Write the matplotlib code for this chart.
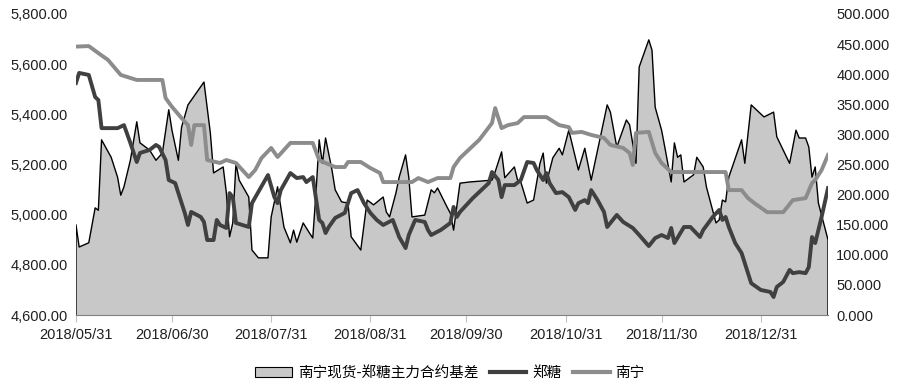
import pandas as pd
import matplotlib
matplotlib.use("Agg")
import matplotlib.pyplot as plt
import matplotlib.dates as mdates
from matplotlib.ticker import FuncFormatter
from matplotlib.patches import Patch
from matplotlib.lines import Line2D

# 南宁现货 (left axis)
nanning_dates = [
    "2018-05-31", "2018-06-04", "2018-06-07", "2018-06-10", "2018-06-14", "2018-06-19",
    "2018-06-27", "2018-06-28", "2018-06-30", "2018-07-03", "2018-07-05", "2018-07-06",
    "2018-07-07", "2018-07-10", "2018-07-11", "2018-07-15", "2018-07-17", "2018-07-20",
    "2018-07-24", "2018-07-26", "2018-07-28", "2018-07-31", "2018-08-02", "2018-08-06",
    "2018-08-13", "2018-08-15", "2018-08-17", "2018-08-20", "2018-08-23", "2018-08-24",
    "2018-08-28", "2018-08-31", "2018-09-03", "2018-09-04", "2018-09-13", "2018-09-15",
    "2018-09-18", "2018-09-21", "2018-09-25", "2018-09-26", "2018-09-28", "2018-10-04",
    "2018-10-08", "2018-10-09", "2018-10-11", "2018-10-13", "2018-10-16", "2018-10-18",
    "2018-10-25", "2018-10-29", "2018-11-01", "2018-11-02", "2018-11-05", "2018-11-08",
    "2018-11-12", "2018-11-14", "2018-11-18", "2018-11-20", "2018-11-21", "2018-11-22",
    "2018-11-26", "2018-11-28", "2018-11-30", "2018-12-03", "2018-12-20", "2018-12-21",
    "2018-12-25", "2018-12-27", "2018-12-29", "2019-01-02", "2019-01-07", "2019-01-10",
    "2019-01-14", "2019-01-16", "2019-01-17", "2019-01-19", "2019-01-21",
]
nanning = [
    5670, 5672, 5644, 5617, 5557, 5537,
    5537, 5465, 5430, 5385, 5357, 5278,
    5357, 5357, 5218, 5206, 5218, 5206,
    5150, 5178, 5226, 5266, 5230, 5286,
    5286, 5218, 5206, 5190, 5190, 5210,
    5210, 5186, 5166, 5130, 5130, 5146,
    5130, 5146, 5146, 5190, 5226, 5298,
    5365, 5425, 5345, 5357, 5365, 5389,
    5389, 5357, 5349, 5326, 5330, 5318,
    5306, 5278, 5266, 5246, 5198, 5326,
    5330, 5246, 5206, 5170, 5170, 5098,
    5098, 5066, 5046, 5010, 5010, 5058,
    5066, 5126, 5138, 5178, 5238,
]

# 郑糖主力 (left axis)
zhengtang_dates = [
    "2018-05-31", "2018-06-01", "2018-06-04", "2018-06-06", "2018-06-07", "2018-06-08",
    "2018-06-13", "2018-06-15", "2018-06-17", "2018-06-19", "2018-06-20", "2018-06-23",
    "2018-06-25", "2018-06-26", "2018-06-28", "2018-06-29", "2018-07-01", "2018-07-04",
    "2018-07-05", "2018-07-06", "2018-07-09", "2018-07-10", "2018-07-11", "2018-07-13",
    "2018-07-14", "2018-07-15", "2018-07-17", "2018-07-18", "2018-07-19", "2018-07-20",
    "2018-07-24", "2018-07-25", "2018-07-30", "2018-08-01", "2018-08-02", "2018-08-03",
    "2018-08-06", "2018-08-08", "2018-08-10", "2018-08-11", "2018-08-13", "2018-08-15",
    "2018-08-16", "2018-08-17", "2018-08-18", "2018-08-20", "2018-08-23", "2018-08-25",
    "2018-08-27", "2018-08-29", "2018-08-31", "2018-09-02", "2018-09-04", "2018-09-07",
    "2018-09-09", "2018-09-11", "2018-09-12", "2018-09-14", "2018-09-17", "2018-09-18",
    "2018-09-19", "2018-09-22", "2018-09-25", "2018-09-26", "2018-09-27", "2018-09-28",
    "2018-10-02", "2018-10-07", "2018-10-08", "2018-10-10", "2018-10-11", "2018-10-12",
    "2018-10-15", "2018-10-17", "2018-10-19", "2018-10-21", "2018-10-22", "2018-10-24",
    "2018-10-25", "2018-10-26", "2018-10-28", "2018-10-30", "2018-11-01", "2018-11-03",
    "2018-11-04", "2018-11-06", "2018-11-07", "2018-11-08", "2018-11-10", "2018-11-12",
    "2018-11-13", "2018-11-16", "2018-11-18", "2018-11-21", "2018-11-23", "2018-11-26",
    "2018-11-28", "2018-11-30", "2018-12-02", "2018-12-03", "2018-12-04", "2018-12-07",
    "2018-12-09", "2018-12-12", "2018-12-13", "2018-12-16", "2018-12-18", "2018-12-19",
    "2018-12-20", "2018-12-21", "2018-12-23", "2018-12-25", "2018-12-26", "2018-12-28",
    "2018-12-31", "2019-01-03", "2019-01-04", "2019-01-05", "2019-01-07", "2019-01-09",
    "2019-01-10", "2019-01-12", "2019-01-14", "2019-01-15", "2019-01-16", "2019-01-17",
    "2019-01-18", "2019-01-19", "2019-01-21",
]
zhengtang = [
    5525, 5565, 5557, 5469, 5457, 5345,
    5345, 5357, 5286, 5210, 5246, 5258,
    5278, 5270, 5218, 5138, 5126, 5007,
    4959, 5011, 4991, 4971, 4899, 4899,
    4979, 4959, 4947, 5086, 5070, 4967,
    4951, 5046, 5158, 5070, 5046, 5098,
    5166, 5146, 5150, 5130, 5150, 4979,
    4967, 4927, 4951, 4987, 5007, 5086,
    5098, 5046, 5007, 4979, 4959, 4979,
    4911, 4867, 4919, 4979, 4971, 4939,
    4919, 4939, 4967, 5031, 4991, 5011,
    5066, 5126, 5170, 5138, 5070, 5118,
    5118, 5138, 5210, 5206, 5178, 5138,
    5166, 5126, 5086, 5090, 5070, 5019,
    5046, 5058, 5046, 5098, 5058, 5011,
    4951, 4999, 4971, 4947, 4919, 4875,
    4907, 4919, 4907, 4947, 4887, 4951,
    4951, 4911, 4939, 4991, 5019, 4979,
    4991, 4951, 4887, 4847, 4807, 4727,
    4700, 4692, 4672, 4712, 4732, 4780,
    4767, 4771, 4767, 4791, 4911, 4887,
    4939, 4991, 5106,
]

# 南宁现货-郑糖主力合约基差 (right axis)
basis_dates = [
    "2018-05-31", "2018-06-01", "2018-06-04", "2018-06-06", "2018-06-07", "2018-06-08",
    "2018-06-11", "2018-06-13", "2018-06-14", "2018-06-15", "2018-06-17", "2018-06-19",
    "2018-06-20", "2018-06-23", "2018-06-25", "2018-06-27", "2018-06-29", "2018-06-30",
    "2018-07-02", "2018-07-03", "2018-07-05", "2018-07-10", "2018-07-12", "2018-07-13",
    "2018-07-16", "2018-07-17", "2018-07-18", "2018-07-19", "2018-07-20", "2018-07-21",
    "2018-07-24", "2018-07-25", "2018-07-27", "2018-07-30", "2018-07-31", "2018-08-02",
    "2018-08-04", "2018-08-06", "2018-08-07", "2018-08-08", "2018-08-10", "2018-08-12",
    "2018-08-13", "2018-08-14", "2018-08-15", "2018-08-16", "2018-08-17", "2018-08-19",
    "2018-08-20", "2018-08-22", "2018-08-24", "2018-08-25", "2018-08-28", "2018-08-30",
    "2018-09-01", "2018-09-04", "2018-09-05", "2018-09-06", "2018-09-08", "2018-09-09",
    "2018-09-11", "2018-09-12", "2018-09-13", "2018-09-17", "2018-09-19", "2018-09-20",
    "2018-09-21", "2018-09-24", "2018-09-25", "2018-09-26", "2018-09-28", "2018-10-01",
    "2018-10-08", "2018-10-09", "2018-10-11", "2018-10-12", "2018-10-15", "2018-10-16",
    "2018-10-17", "2018-10-19", "2018-10-21", "2018-10-23", "2018-10-24", "2018-10-25",
    "2018-10-27", "2018-10-29", "2018-10-30", "2018-11-01", "2018-11-04", "2018-11-06",
    "2018-11-08", "2018-11-13", "2018-11-14", "2018-11-16", "2018-11-19", "2018-11-20",
    "2018-11-22", "2018-11-23", "2018-11-26", "2018-11-27", "2018-11-28", "2018-11-30",
    "2018-12-01", "2018-12-03", "2018-12-04", "2018-12-05", "2018-12-06", "2018-12-07",
    "2018-12-10", "2018-12-11", "2018-12-13", "2018-12-14", "2018-12-17", "2018-12-18",
    "2018-12-19", "2018-12-20", "2018-12-21", "2018-12-25", "2018-12-26", "2018-12-28",
    "2019-01-01", "2019-01-04", "2019-01-05", "2019-01-07", "2019-01-09", "2019-01-11",
    "2019-01-12", "2019-01-14", "2019-01-15", "2019-01-16", "2019-01-17", "2019-01-18",
    "2019-01-21",
]
basis = [
    150, 113, 120, 178, 174, 291,
    262, 229, 199, 213, 257, 321,
    286, 274, 257, 269, 341, 307,
    257, 312, 349, 387, 302, 236,
    246, 203, 130, 153, 252, 224,
    196, 108, 95, 95, 163, 213,
    146, 120, 141, 121, 153, 136,
    128, 203, 291, 252, 294, 241,
    208, 188, 186, 130, 108, 191,
    183, 196, 171, 163, 203, 229,
    266, 229, 163, 166, 208, 203,
    211, 179, 169, 141, 219, 221,
    224, 238, 271, 228, 246, 224,
    221, 186, 191, 252, 269, 219,
    261, 277, 266, 307, 241, 277,
    224, 349, 337, 279, 324, 316,
    252, 412, 457, 440, 345, 307,
    279, 221, 286, 262, 266, 221,
    233, 262, 246, 213, 153, 158,
    191, 188, 229, 291, 252, 349,
    329, 337, 296, 274, 252, 307,
    294, 294, 279, 229, 246, 186,
    125,
]

month_ticks = ["2018-05-31", "2018-06-30", "2018-07-31", "2018-08-31", "2018-09-30",
               "2018-10-31", "2018-11-30", "2018-12-31"]

plt.rcParams['font.family'] = ['Liberation Sans', 'Noto Sans CJK SC']

fig = plt.figure(figsize=(9, 3.88), dpi=100)
ax = fig.add_axes([0.0844, 0.188, 0.8356, 0.776])
axr = ax.twinx()

# area with its outline closed down to the baseline at both ends, like Excel
bd = pd.to_datetime(basis_dates)
axr.fill_between(bd, basis, 0, facecolor='#c8c8c8', edgecolor='none')
outline_x = [bd[0]] + list(bd) + [bd[-1]]
outline_y = [0] + basis + [0]
axr.plot(outline_x, outline_y, color='black', lw=1)
axr.set_ylim(0, 500)
axr.set_yticks(range(0, 501, 50))
axr.yaxis.set_major_formatter(FuncFormatter(lambda v, p: f"{v:.3f}"))

ax.plot(pd.to_datetime(zhengtang_dates), zhengtang, color='#404040', lw=2.8, solid_joinstyle='round')
ax.plot(pd.to_datetime(nanning_dates), nanning, color='#8c8c8c', lw=2.8, solid_joinstyle='round')
ax.set_ylim(4600, 5800)
ax.set_yticks(range(4600, 5801, 200))
ax.yaxis.set_major_formatter(FuncFormatter(lambda v, p: f"{v:,.2f}"))

ax.set_zorder(axr.get_zorder() + 1)
ax.patch.set_visible(False)

ax.set_xlim(pd.Timestamp("2018-05-31"), pd.Timestamp("2019-01-21"))
ax.set_xticks(pd.to_datetime(month_ticks))
ax.xaxis.set_major_formatter(mdates.DateFormatter("%Y/%m/%d"))

for a in (ax, axr):
    for s in ('top', 'right', 'left'):
        a.spines[s].set_visible(False)
    a.spines['bottom'].set_color('#808080')
    a.tick_params(labelsize=10.5, colors='#202020', length=0, pad=6)
ax.tick_params(axis='x', length=5, color='#c0c0c0', pad=4)
axr.tick_params(axis='x', length=0)
axr.spines['bottom'].set_visible(False)

handles = [
    Patch(facecolor='#c8c8c8', edgecolor='black', lw=0.8),
    Line2D([], [], color='#404040', lw=3),
    Line2D([], [], color='#8c8c8c', lw=3),
]
labels = ["南宁现货-郑糖主力合约基差", "郑糖", "南宁"]
fig.legend(handles, labels, loc='center', bbox_to_anchor=(0.5, 0.038), ncol=3,
           frameon=False, handlelength=2.5, columnspacing=0.8,
           handletextpad=0.4, prop={'family': ['Noto Sans CJK SC'], 'size': 10.5})

fig.savefig("out.png", dpi=100)
